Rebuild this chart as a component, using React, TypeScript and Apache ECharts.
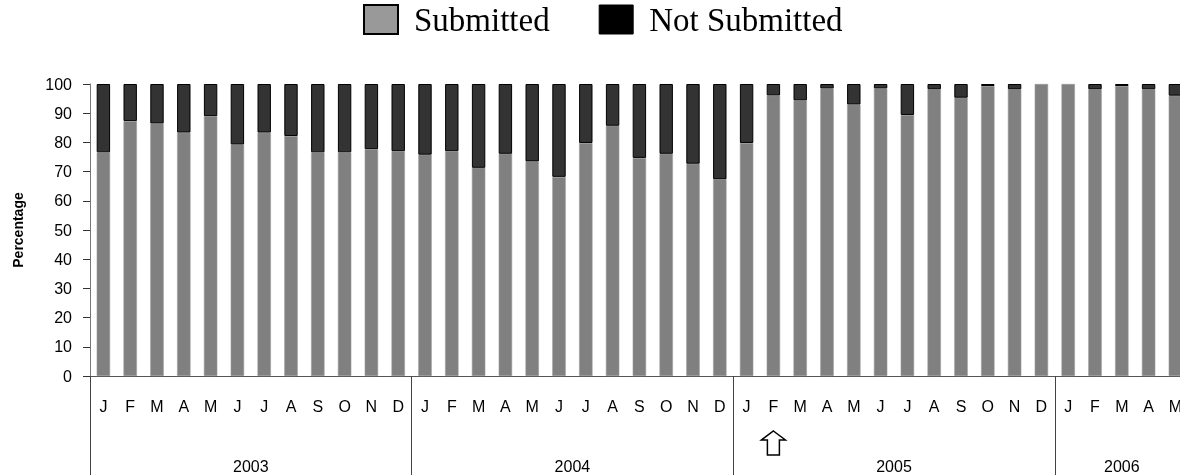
import React, { useEffect, useRef } from "react";
import * as echarts from "echarts";

const monthLetters = ["J", "F", "M", "A", "M", "J", "J", "A", "S", "O", "N", "D"];
const years = ["2003", "2004", "2005", "2006"];
const monthsPerYear = [12, 12, 12, 5];

const submitted2003 = [76.6, 87.3, 86.5, 83.4, 89.0, 79.3, 83.4, 82.2, 76.6, 76.6, 77.7, 77.0];
const submitted2004 = [75.8, 77.0, 71.3, 76.1, 73.5, 68.2, 79.8, 85.7, 74.7, 76.1, 72.7, 67.4];
const submitted2005 = [79.8, 96.1, 94.4, 98.5, 93.0, 98.5, 89.4, 98.2, 95.3, 99.3, 98.2, 100];
const submitted2006 = [100, 98.2, 99.3, 98.2, 96.0];

const yTicks = { min: 0, max: 100, interval: 10 };
const arrowMonth = "2005-F";

export default function App() {
  const ref = useRef<HTMLDivElement>(null);

  useEffect(() => {
    const categories: string[] = [];
    years.forEach((y, i) => {
      for (let m = 0; m < monthsPerYear[i]; m++) categories.push(y + "-" + monthLetters[m]);
    });
    const submitted = [...submitted2003, ...submitted2004, ...submitted2005, ...submitted2006];
    const notSubmitted = submitted.map((v) => {
      const r = Math.round((100 - v) * 10) / 10;
      return r > 0 ? r : null;
    });

    const yearStarts: number[] = [];
    const yearCenters: number[] = [];
    let acc = 0;
    monthsPerYear.forEach((n) => {
      yearStarts.push(acc);
      yearCenters.push(acc + n / 2);
      acc += n;
    });
    const total = acc;

    const gridLeft = 90;
    const monthWidth = 26.8;

    const chart = echarts.init(ref.current!, null, { renderer: "svg" });
    chart.setOption({
      animation: false,
      legend: {
        top: 0,
        left: 360,
        padding: 3,
        icon: "rect",
        itemWidth: 34,
        itemHeight: 29,
        itemGap: 49,
        textStyle: { fontFamily: "Liberation Serif", fontSize: 33, color: "#000", padding: [0, 0, 0, 11] },
        data: [
          { name: "Submitted", itemStyle: { color: "#999999", borderColor: "#000", borderWidth: 2 } },
          { name: "Not Submitted", itemStyle: { color: "#000000", borderColor: "#000", borderWidth: 1 } },
        ],
      },
      grid: { left: gridLeft, top: 84, height: 292, width: monthWidth * total },
      xAxis: [
        {
          type: "category",
          data: categories,
          axisLine: { show: true, lineStyle: { color: "#555", width: 1 } },
          axisTick: { show: false },
          axisLabel: {
            interval: 0,
            margin: 22,
            fontFamily: "Liberation Sans",
            fontSize: 16,
            color: "#000",
            formatter: (v: string) => v.split("-")[1],
          },
        },
        {
          type: "value",
          position: "bottom",
          offset: 0,
          min: 0,
          max: total,
          axisLine: { show: false },
          splitLine: { show: false },
          axisTick: { show: true, customValues: yearStarts, length: 110, lineStyle: { color: "#444", width: 1 } },
          axisLabel: {
            customValues: yearCenters,
            margin: 82,
            fontFamily: "Liberation Sans",
            fontSize: 16,
            color: "#000",
            formatter: (v: number) => {
              const i = yearCenters.indexOf(v);
              return i >= 0 ? years[i] : "";
            },
          },
        },
      ],
      yAxis: {
        type: "value",
        min: yTicks.min,
        max: yTicks.max,
        interval: yTicks.interval,
        name: "Percentage",
        nameLocation: "middle",
        nameRotate: 90,
        nameGap: 65,
        nameTextStyle: { fontFamily: "Liberation Sans", fontSize: 14, fontWeight: "bold", color: "#000" },
        axisLine: { show: true, lineStyle: { color: "#777", width: 1 } },
        axisTick: { show: true, length: 7, lineStyle: { color: "#333" } },
        axisLabel: { margin: 18, fontFamily: "Liberation Sans", fontSize: 16, color: "#000" },
        splitLine: { show: false },
      },
      series: [
        {
          name: "Submitted",
          type: "bar",
          stack: "total",
          barWidth: "50%",
          data: submitted,
          itemStyle: { color: "#808080", borderColor: "#999999", borderWidth: 0.6 },
        },
        {
          name: "Not Submitted",
          type: "bar",
          stack: "total",
          barWidth: "50%",
          data: notSubmitted,
          itemStyle: { color: "#333333", borderColor: "#000", borderWidth: 1 },
        },
      ],
    });

    const cx = chart.convertToPixel({ xAxisIndex: 0 }, arrowMonth) as number;
    const base = chart.convertToPixel({ yAxisIndex: 0 }, 0) as number;
    const top = base + 55;
    chart.setOption({
      graphic: [
        {
          type: "polygon",
          shape: {
            points: [
              [cx, top],
              [cx + 12, top + 9],
              [cx + 6, top + 9],
              [cx + 6, top + 24],
              [cx - 6, top + 24],
              [cx - 6, top + 9],
              [cx - 12, top + 9],
            ],
          },
          style: { fill: "#fff", stroke: "#000", lineWidth: 1.5 },
        },
      ],
    });

    return () => chart.dispose();
  }, []);

  return (
    <div style={{ position: "fixed", left: 0, top: 0, width: 1180, height: 475, overflow: "hidden" }}>
      <div ref={ref} style={{ width: 1200, height: 475 }} />
    </div>
  );
}
